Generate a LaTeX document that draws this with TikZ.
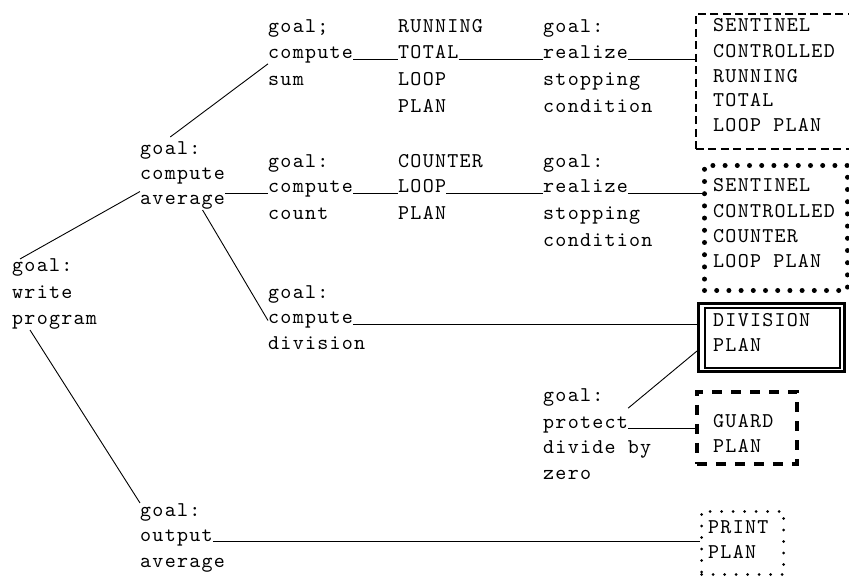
\documentclass[tikz,border=0pt]{standalone}
\usepackage{fontspec}
\newfontfamily\typer{lmmono10-regular.otf}[LetterSpace=6]
\usetikzlibrary{calc}

\begin{document}
\begin{tikzpicture}[x=1pt,y=-1pt,
  word/.style={font=\typer\fontsize{21}{26}\selectfont, anchor=base west, inner sep=0pt},
  link/.style={line width=0.9pt},
  planbox/.style={draw, anchor=north west, inner sep=0pt},
  dashbox/.style={planbox, line width=1.8pt, dash pattern=on 8pt off 4.5pt},
  bigdots/.style={planbox, line width=5pt, line cap=round, dash pattern=on 0pt off 12.2pt},
  framebox/.style={planbox, line width=3pt},
  heavydash/.style={planbox, line width=3.6pt, dash pattern=on 10pt off 9pt},
  smalldots/.style={planbox, line width=3pt, line cap=round, dash pattern=on 0pt off 11.5pt}]
\useasboundingbox (0,0) rectangle (849,577);
\clip (0,0) rectangle (849,577);
% goals
\node[word] (wrG) at (12,272) {goal:};
\node[word] (wrW) at (12,299) {write};
\node[word] (wrP) at (12,325) {program};
\node[word] (avG) at (140,155) {goal:};
\node[word] (avC) at (140,180) {compute};
\node[word] (avA) at (140,205) {average};
\node[word] (ouG) at (140,516) {goal:};
\node[word] (ouC) at (140,541) {output};
\node[word] (ouA) at (140,567) {average};
\node[word] (smG) at (268,33) {goal;};
\node[word] (smC) at (268,59) {compute};
\node[word] (smS) at (268,86) {sum};
\node[word] (ctG) at (268,168) {goal:};
\node[word] (ctC) at (268,193) {compute};
\node[word] (ctN) at (268,220) {count};
\node[word] (dvG) at (268,299) {goal:};
\node[word] (dvC) at (268,324) {compute};
\node[word] (dvD) at (268,350) {division};
\node[word] (smR) at (398,33) {RUNNING};
\node[word] (smT) at (398,59) {TOTAL};
\node[word] (smL) at (398,86) {LOOP};
\node[word] (smP) at (398,113) {PLAN};
\node[word] (ctU) at (398,168) {COUNTER};
\node[word] (ctL) at (398,193) {LOOP};
\node[word] (ctP) at (398,220) {PLAN};
\node[word] (rlG) at (543,33) {goal:};
\node[word] (rlA) at (543,59) {realize};
\node[word] (rlS) at (543,86) {stopping};
\node[word] (rlC) at (543,113) {condition};
\node[word] (rkG) at (543,168) {goal:};
\node[word] (rlB) at (543,193) {realize};
\node[word] (rkS) at (543,220) {stopping};
\node[word] (rkC) at (543,247) {condition};
\node[word] (prG) at (543,402) {goal:};
\node[word] (prC) at (543,428) {protect};
\node[word] (prD) at (543,453) {divide by};
\node[word] (prZ) at (543,479) {zero};
% plans
\node[dashbox, minimum width=175pt, minimum height=135pt] (runbox) at (695,13) {};
\node[word] (rb1) at (713,32) {SENTINEL};
\node[word] (rb2) at (713,58) {CONTROLLED};
\node[word] (rb3) at (713,83) {RUNNING};
\node[word] (rb4) at (713,107) {TOTAL};
\node[word] (rb5) at (713,132) {LOOP PLAN};
\node[bigdots, minimum width=143pt, minimum height=125pt] (cntbox) at (702,163) {};
\node[word] (cb1) at (713,192) {SENTINEL};
\node[word] (cb2) at (713,218) {CONTROLLED};
\node[word] (cb3) at (713,243) {COUNTER};
\node[word] (cb4) at (713,268) {LOOP PLAN};
\node[framebox, minimum width=146pt, minimum height=68pt] (divbox) at (697,302) {};
\draw[line width=1.4pt] ([shift={(8pt,-6pt)}]divbox.north west) rectangle ([shift={(-6pt,5pt)}]divbox.south east);
\node[word] (db1) at (713,327) {DIVISION};
\node[word] (db2) at (713,352) {PLAN};
\node[heavydash, minimum width=100pt, minimum height=72pt] (guardbox) at (695,390) {};
\node[word] (gb1) at (713,427) {GUARD};
\node[word] (gb2) at (713,452) {PLAN};
\node[smalldots, minimum width=82pt, minimum height=63pt] (printbox) at (700,510) {};
\node[word] (pb1) at (708,533) {PRINT};
\node[word] (pb2) at (708,558) {PLAN};
% tree links
\draw[link] ([xshift=8pt]wrG.north west) -- ([yshift=4pt]avA.north west);
\draw[link] ([yshift=5pt]avG.north) -- (smC.south west);
\draw[link] ([xshift=20pt]avA.south) -- (dvC.west);
\draw[link] ([xshift=18pt]wrP.south west) -- (ouG.north west);
\draw[link] ([yshift=8pt]prC.north east) -- ([yshift=22pt]divbox.south west);
\draw[link] (smC.base east) -- (smT.base west);
\draw[link] (smT.base east) -- (rlA.base west);
\draw[link] (rlA.base east) -- (rlA.base east -| runbox.west);
\draw[link] (ctC.base west -| avA.east) -- (ctC.base west);
\draw[link] (ctC.base east) -- (ctL.base west);
\draw[link] (ctL.base east) -- (rlB.base west);
\draw[link] (rlB.base east) -- (rlB.base east -| cntbox.west);
\draw[link] (dvC.base east) -- (dvC.base east -| divbox.west);
\draw[link] (prC.base east) -- (prC.base east -| guardbox.west);
\draw[link] (ouC.base east) -- (ouC.base east -| printbox.west);
\end{tikzpicture}
\end{document}
